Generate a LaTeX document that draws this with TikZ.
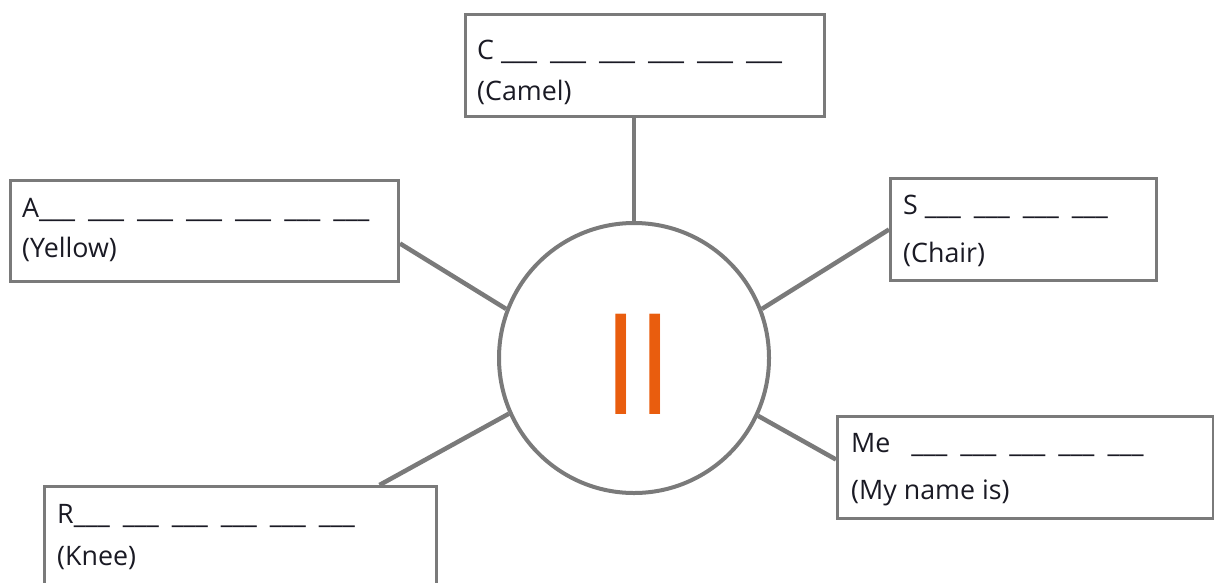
\documentclass[tikz,border=0pt]{standalone}
\usepackage{fontspec}
\setmainfont{Open Sans}
\usepackage{tikz}
\definecolor{cardgray}{RGB}{122,122,122}
\definecolor{inkblack}{RGB}{26,26,36}
\definecolor{llorange}{RGB}{233,93,14}
\newcommand{\slot}{\_\_\_}
\newcommand{\slotgap}{\hspace{13pt}}

\begin{document}
\begin{tikzpicture}[x=1pt, y=-1pt,
    card/.style={draw=cardgray, line width=3pt, rectangle, anchor=north west, minimum height=102pt, inner sep=0pt},
    word/.style={anchor=base west, inner sep=0pt, text=inkblack, font=\fontsize{26.8}{30}\selectfont},
    spoke/.style={draw=cardgray, line width=4.5pt}]
    \useasboundingbox (0,0) rectangle (1214,582);
    % centre
    \node[draw=cardgray, line width=4pt, circle, minimum size=270pt, inner sep=0pt] (ring) at (634,358) {};
    \node[anchor=base, inner sep=0pt, text=llorange, font=\fontsize{132}{132}\selectfont] (ll) at (638,414) {ll};
    % cards
    \node[card, minimum width=359pt] (camel) at (464,13) {};
    \node[word] (camel-top) at ([xshift=13pt, yshift=-46pt]camel.north west) {C \slot\slotgap\slot\slotgap\slot\slotgap\slot\slotgap\slot\slotgap\slot};
    \node[word] (camel-bot) at ([yshift=-41pt]camel-top.base west) {(Camel)};
    \node[card, minimum width=388pt, minimum height=101pt] (yellow) at (9,179) {};
    \node[word] (yellow-top) at ([xshift=13pt, yshift=-38pt]yellow.north west) {A\slot\slotgap\slot\slotgap\slot\slotgap\slot\slotgap\slot\slotgap\slot\slotgap\slot};
    \node[word] (yellow-bot) at ([yshift=-40pt]yellow-top.base west) {(Yellow)};
    \node[card, minimum width=266pt] (chair) at (889,177) {};
    \node[word] (chair-top) at ([xshift=14pt, yshift=-37pt]chair.north west) {S \slot\slotgap\slot\slotgap\slot\slotgap\slot};
    \node[word] (chair-bot) at ([yshift=-48pt]chair-top.base west) {(Chair)};
    \node[card, minimum width=376pt] (name) at (836,415) {};
    \node[word] (name-top) at ([xshift=15pt, yshift=-37pt]name.north west) {Me\hspace{21pt}\slot\slotgap\slot\slotgap\slot\slotgap\slot\slotgap\slot};
    \node[word] (name-bot) at ([yshift=-47pt]name-top.base west) {(My name is)};
    \node[card, minimum width=392pt] (knee) at (43,485) {};
    \node[word] (knee-top) at ([xshift=14pt, yshift=-38pt]knee.north west) {R\slot\slotgap\slot\slotgap\slot\slotgap\slot\slotgap\slot\slotgap\slot};
    \node[word] (knee-bot) at ([yshift=-42pt]knee-top.base west) {(Knee)};
    % spokes
    \draw[spoke] (ring.north) -- (ring.north |- camel.south);
    \draw[spoke] ([yshift=-12.5pt]yellow.east) -- (ring.159.3);
    \draw[spoke] (chair.west) -- (ring.21.6);
    \draw[spoke] ([yshift=8pt]name.west) -- (ring.-25.6);
    \draw[spoke] ([xshift=139pt]knee.north) -- (ring.204.3);
\end{tikzpicture}
\end{document}
